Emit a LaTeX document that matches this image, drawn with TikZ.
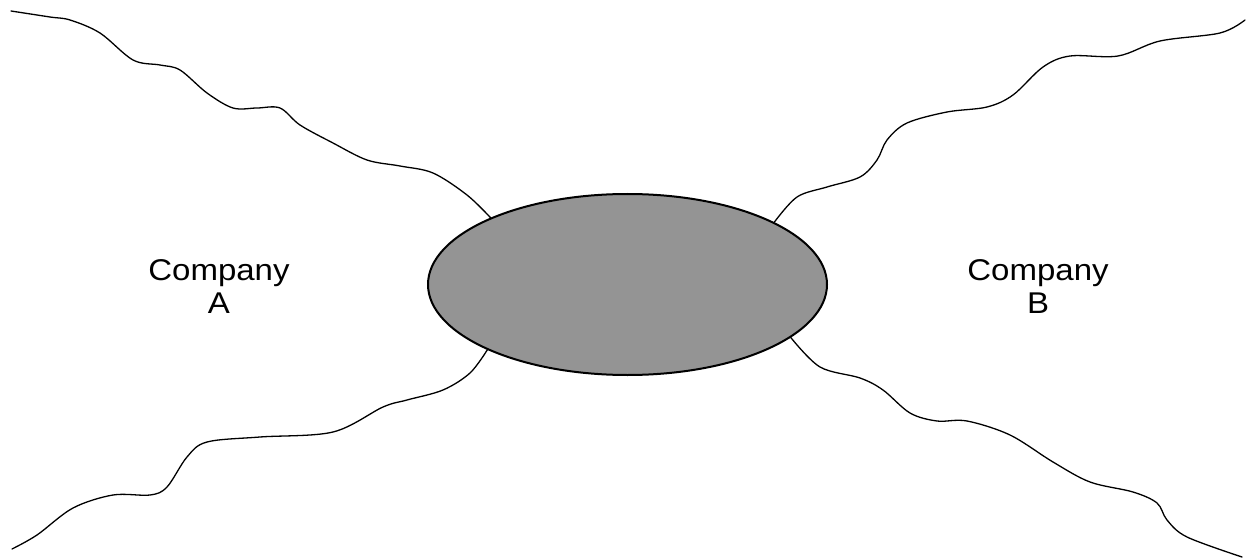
\documentclass[tikz,border=0pt]{standalone}
\usepackage{fontspec}
\setmainfont{Liberation Sans}
\usetikzlibrary{shapes.geometric}
\begin{document}
\begin{tikzpicture}[x=1pt,y=-1pt,
  wave/.style={line width=1.3pt, line join=round, line cap=round},
  hubstyle/.style={ellipse, draw=black, line width=2pt, fill=black!42,
    minimum width=399pt, minimum height=181pt, inner sep=0pt},
  label/.style={align=center, font=\fontsize{30}{33}\selectfont, inner sep=0pt}]
\path[use as bounding box, fill=white] (0,0) rectangle (1251,559);
\node[hubstyle] (hub) at (627.5,284.5) {};
% top-left
\draw[wave] plot[smooth, tension=0.55] coordinates {
  (11,11) (50,17) (70,20) (100,33) (133,60) (160,65) (180,70) (207,93)
  (233,108) (257,108) (280,108) (300,125) (333,143) (367,160) (400,166)
  (433,173) (467,195) (hub.154)};
% bottom-left
\draw[wave] plot[smooth, tension=0.55] coordinates {
  (12,549) (37,535) (73,508) (113,495) (150,495) (167,487) (187,457)
  (207,442) (260,437) (333,432) (383,407) (407,400) (443,390) (470,373)
  (hub.205)};
% top-right
\draw[wave] plot[smooth, tension=0.55] coordinates {
  (hub.23) (797,197) (827,187) (860,177) (877,160) (887,140) (907,123)
  (947,112) (987,107) (1013,95) (1043,67) (1070,56) (1118,56) (1160,41)
  (1220,33) (1245,20)};
% bottom-right
\draw[wave] plot[smooth, tension=0.55] coordinates {
  (hub.-18) (820,367) (860,378) (883,390) (910,413) (937,421) (967,421)
  (1010,435) (1053,462) (1090,482) (1133,492) (1157,503) (1167,520)
  (1187,537) (1242,557)};
\node[label, anchor=base] (compA) at (219,313) {\scalebox{1.1}[1]{Company}\\[0pt]\scalebox{1.1}[1]{A}};
\node[label, anchor=base] (compB) at (1038,313) {\scalebox{1.1}[1]{Company}\\[0pt]\scalebox{1.1}[1]{B}};
\end{tikzpicture}
\end{document}
